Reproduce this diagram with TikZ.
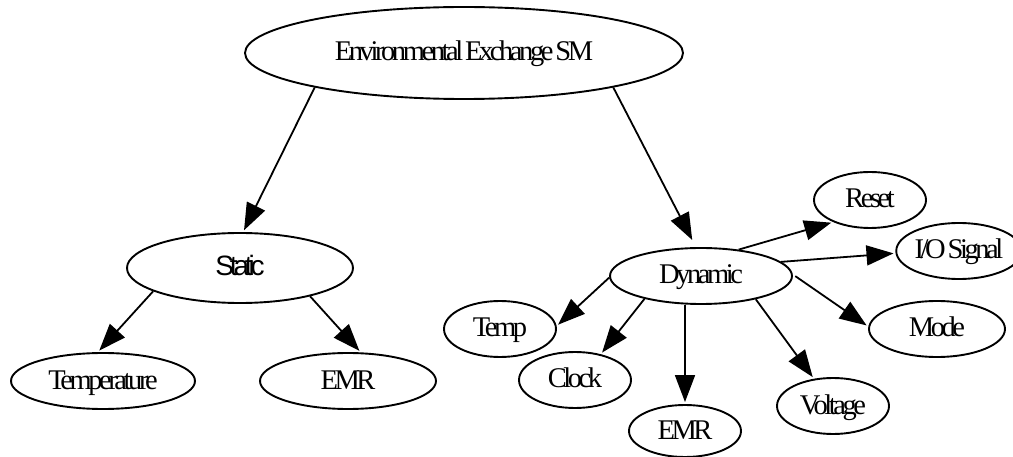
\documentclass[tikz,border=0pt]{standalone}
\usepackage{fontspec}
\usetikzlibrary{shapes.geometric,arrows.meta}
\newfontfamily\labelserif[LetterSpace=-12,WordSpace=0.5]{Liberation Serif}
\newfontfamily\labelsans[LetterSpace=-15]{Liberation Sans}
\begin{document}
\begin{tikzpicture}[x=1pt,y=1pt,
  state/.style={ellipse, draw, line width=1.9pt, inner sep=0pt,
    font=\labelserif\fontsize{28.5}{30}\selectfont,
    text height=18pt, text depth=2pt},
  small/.style={state, minimum width=112pt, minimum height=56pt},
  link/.style={line width=1.8pt, -{Triangle[length=27pt,width=20pt]},
    shorten >=2pt}]
\useasboundingbox (0,0) rectangle (1013,-457);

% top level
\node[state, minimum width=438pt, minimum height=92pt] (root) at (464,-53)
  {Environmental Exchange SM};

% static branch
\node[state, minimum width=226pt, minimum height=70pt,
  font=\labelsans\fontsize{28}{30}\selectfont] (static) at (240,-268) {Static};
\node[state, minimum width=184pt, minimum height=56pt] (temperature) at (103,-381) {Temperature};
\node[state, minimum width=176pt, minimum height=56pt] (emrS) at (348,-381) {EMR};

% dynamic branch
\node[state, minimum width=182pt, minimum height=56pt] (dynamic) at (701,-276) {Dynamic};
\node[small] (reset) at (870,-200) {Reset};
\node[small, minimum width=106pt] (io) at (959,-251) {I/O Signal};
\node[small] (temp) at (500,-329) {Temp};
\node[small] (clock) at (575,-380) {Clock};
\node[small, minimum height=52pt] (emrD) at (685,-431) {EMR};
\node[small] (voltage) at (833,-406) {Voltage};
\node[small, minimum width=136pt] (mode) at (937,-329) {Mode};

% connectors
\draw[link] (root.193) -- (static.85);
\draw[link, shorten >=8pt] (root.-13) -- (dynamic.100);
\draw[link] (static.195) -- (temperature.100);
\draw[link] (static.-22) -- (emrS.66);
\draw[link] (dynamic.181) -- (temp.3);
\draw[link] (dynamic.202) -- (clock.45);
\draw[link] (emrD.north |- dynamic.south) -- (emrD.north);
\draw[link] (dynamic.-23) -- (voltage.125);
\draw[link, shorten <=3pt] (dynamic.1) -- (mode.178);
\draw[link] (dynamic.10) -- (io.182);
\draw[link] (dynamic.35) -- (reset.211);
\end{tikzpicture}
\end{document}
